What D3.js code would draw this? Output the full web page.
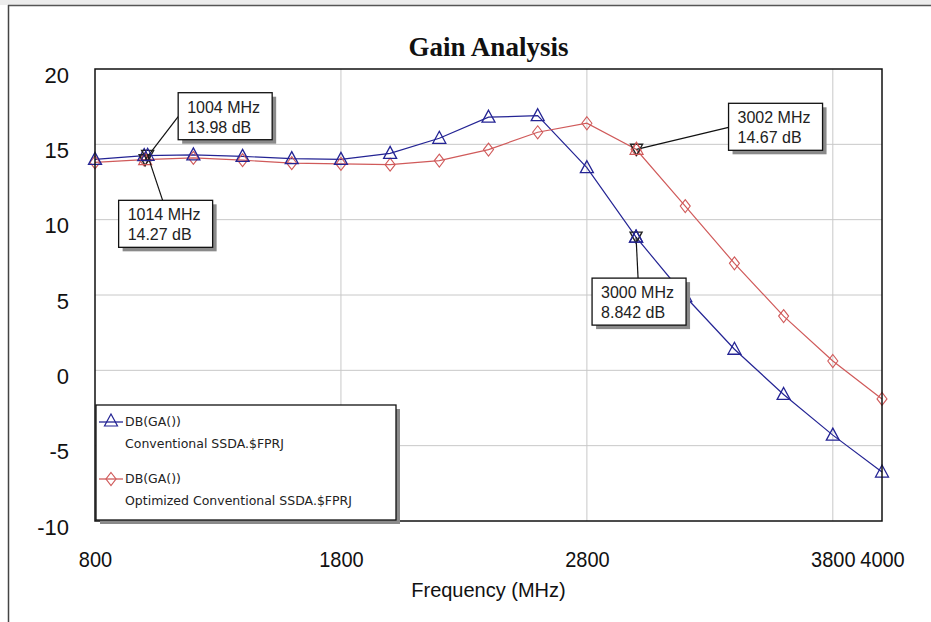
<!DOCTYPE html>
<html><head><meta charset="utf-8">
<script src="https://cdn.jsdelivr.net/npm/d3@7"></script>
<style>html,body{margin:0;padding:0;background:#fff;}svg{display:block;}</style>
</head><body>
<svg id="chart" width="931" height="622"></svg>
<script>
// ---- data ----
const freqs = [800,1000,1200,1400,1600,1800,2000,2200,2400,2600,2800,3000,3200,3400,3600,3800,4000];
const conventional = [14.0,14.25,14.3,14.2,14.05,14.0,14.4,15.4,16.8,16.9,13.45,8.842,4.9,1.4,-1.6,-4.3,-6.75];
const optimized = [13.8,13.98,14.1,13.95,13.75,13.7,13.65,13.92,14.65,15.8,16.4,14.67,10.9,7.1,3.6,0.62,-1.9];
const xTicks = [800,1800,2800,3800,4000];
const xGrid = [1800,2800,3800];
const yTicks = [20,15,10,5,0,-5,-10];
const yGrid = [15,10,5,0,-5];
const seriesNames = [["DB(GA())","Conventional SSDA.$FPRJ"],["DB(GA())","Optimized Conventional SSDA.$FPRJ"]];
const markerFreq = [1004,1014,3002,3000];
const markerGain = [13.98,14.27,14.67,8.842];
const markerSeries = [1,0,1,0];
const title = "Gain Analysis";
const xTitle = "Frequency (MHz)";

const svg = d3.select("#chart");
const colors = ["#242494","#d05a5a"];

// page frame
svg.append("rect").attr("x",0).attr("y",0).attr("width",931).attr("height",5).attr("fill","#ececec");
svg.append("line").attr("x1",8).attr("x2",931).attr("y1",5.5).attr("y2",5.5).attr("stroke","#555").attr("stroke-width",1.5);
svg.append("line").attr("x1",8.5).attr("x2",8.5).attr("y1",5).attr("y2",622).attr("stroke","#444").attr("stroke-width",1.5);

const L=95,R=882,T=69,B=521;
const x = d3.scaleLinear().domain([800,4000]).range([L,R]);
const y = d3.scaleLinear().domain([-10,20]).range([B,T]);

svg.append("rect").attr("x",L).attr("y",T).attr("width",R-L).attr("height",B-T).attr("fill","#fff");

// grid
svg.append("g").selectAll("line").data(xGrid).join("line")
  .attr("x1",d=>x(d)).attr("x2",d=>x(d)).attr("y1",T).attr("y2",B)
  .attr("stroke","#c8c8c8").attr("stroke-width",1);
svg.append("g").selectAll("line").data(yGrid).join("line")
  .attr("x1",L).attr("x2",R).attr("y1",d=>y(d)).attr("y2",d=>y(d))
  .attr("stroke","#c8c8c8").attr("stroke-width",1);

// axes labels
const xAxis = svg.append("g").attr("transform",`translate(0,${B})`)
  .call(d3.axisBottom(x).tickValues(xTicks).tickSize(0).tickPadding(28).tickFormat(d=>String(d)));
xAxis.select(".domain").remove();
xAxis.selectAll("text").attr("font-family","Liberation Sans, Arial, sans-serif").attr("font-size",20).attr("fill","#111")
  .attr("transform","scale(1,1.1)");

const yAxis = svg.append("g").attr("transform",`translate(${L},0)`)
  .call(d3.axisLeft(y).tickValues(yTicks).tickSize(0).tickPadding(26).tickFormat(d=>String(d)));
yAxis.select(".domain").remove();
yAxis.selectAll("text").attr("font-family","Liberation Sans, Arial, sans-serif").attr("font-size",22).attr("fill","#111").attr("dy","0.6em");

// titles
svg.append("text").attr("x",(L+R)/2).attr("y",56).attr("text-anchor","middle")
  .attr("font-family","Liberation Serif, Times New Roman, serif").attr("font-weight","bold").attr("font-size",27).attr("fill","#111").text(title);
svg.append("text").attr("x",(L+R)/2).attr("y",597).attr("text-anchor","middle")
  .attr("font-family","Liberation Sans, Arial, sans-serif").attr("font-size",20).attr("fill","#111").text(xTitle);

// series
const series=[conventional,optimized];
const line = d3.line().x((d,i)=>x(freqs[i])).y(d=>y(d));
const plot = svg.append("g");
series.forEach((s,k)=>{
  plot.append("path").datum(s).attr("d",line).attr("fill","none").attr("stroke",colors[k]).attr("stroke-width",1.2);
});
function triPath(cx,cy){return `M${cx},${cy-7}L${cx+6.5},${cy+5}L${cx-6.5},${cy+5}Z`;}
function diaPath(cx,cy){return `M${cx},${cy-6.5}L${cx+5},${cy}L${cx},${cy+6.5}L${cx-5},${cy}Z`;}
function triDown(cx,cy){return `M${cx},${cy+6}L${cx+6},${cy-5}L${cx-6},${cy-5}Z`;}
plot.append("g").selectAll("path").data(optimized).join("path")
  .attr("d",(d,i)=>diaPath(x(freqs[i]),y(d))).attr("fill","none").attr("stroke",colors[1]).attr("stroke-width",1.1);
plot.append("g").selectAll("path").data(conventional).join("path")
  .attr("d",(d,i)=>triPath(x(freqs[i]),y(d))).attr("fill","none").attr("stroke",colors[0]).attr("stroke-width",1.3);

// plot border
svg.append("rect").attr("x",L).attr("y",T).attr("width",R-L).attr("height",B-T).attr("fill","none").attr("stroke","#111").attr("stroke-width",1.5);

// marker annotations
const boxOff = [[33,-67],[-29,45],[92,-46],[-44,41]];
const anchorOff = [[0,24],[44,0],[0,24],[46,0]];
const ann = svg.append("g");
markerFreq.forEach((f,i)=>{
  const px=x(f), py=y(markerGain[i]);
  const bx=px+boxOff[i][0], by=py+boxOff[i][1], bw=94, bh=47;
  ann.append("line").attr("x1",bx+anchorOff[i][0]).attr("y1",by+anchorOff[i][1]).attr("x2",px).attr("y2",py)
    .attr("stroke","#111").attr("stroke-width",1.2);
  ann.append("path").attr("d",triDown(px,py)).attr("fill","none").attr("stroke","#222").attr("stroke-width",1.4);
  ann.append("path").attr("d",triPath(px,py)).attr("fill","none").attr("stroke",colors[markerSeries[i]]).attr("stroke-width",1.2);
  ann.append("rect").attr("x",bx+4).attr("y",by+4).attr("width",bw).attr("height",bh).attr("fill","#8a8a8a");
  ann.append("rect").attr("x",bx).attr("y",by).attr("width",bw).attr("height",bh).attr("fill","#fff").attr("stroke","#111").attr("stroke-width",1.3);
  const t=ann.append("text").attr("font-family","Liberation Sans, Arial, sans-serif").attr("font-size",16).attr("fill","#222");
  t.append("tspan").attr("x",bx+9).attr("y",by+20).text(f+" MHz");
  t.append("tspan").attr("x",bx+9).attr("y",by+40).text(markerGain[i]+" dB");
});

// legend
const lg = svg.append("g");
const lx=96, ly=405, lw=300, lh=115;
lg.append("rect").attr("x",lx+4).attr("y",ly+4).attr("width",lw).attr("height",lh).attr("fill","#8a8a8a");
lg.append("rect").attr("x",lx).attr("y",ly).attr("width",lw).attr("height",lh).attr("fill","#fff").attr("stroke","#111").attr("stroke-width",1.3);
seriesNames.forEach((nm,k)=>{
  const yy = ly+17+k*57;
  lg.append("line").attr("x1",lx+3).attr("x2",lx+27).attr("y1",yy).attr("y2",yy).attr("stroke",colors[k]).attr("stroke-width",1.3);
  lg.append("path").attr("d",k===0?triPath(lx+15,yy-1):diaPath(lx+15,yy)).attr("fill","none").attr("stroke",colors[k]).attr("stroke-width",1.2);
  lg.append("text").attr("x",lx+29).attr("y",yy+4).attr("font-family","DejaVu Sans, Verdana, sans-serif").attr("font-size",12.5).attr("fill","#222").text(nm[0]);
  lg.append("text").attr("x",lx+29).attr("y",yy+26).attr("font-family","DejaVu Sans, Verdana, sans-serif").attr("font-size",12.5).attr("fill","#222").text(nm[1]);
});
</script>
</body></html>
